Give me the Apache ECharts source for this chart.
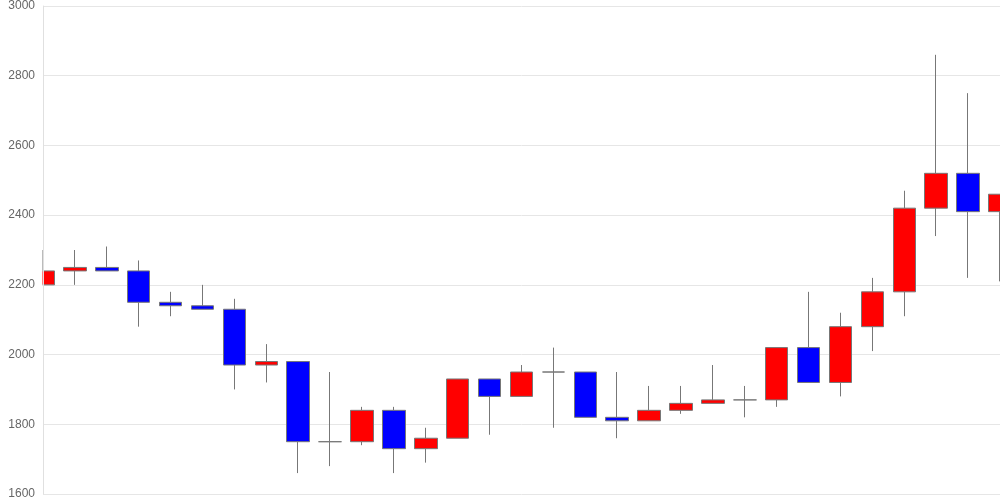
<!DOCTYPE html>
<html>
<head>
<meta charset="utf-8">
<script src="https://cdn.jsdelivr.net/npm/echarts@6/dist/echarts.min.js"></script>
<style>html,body{margin:0;padding:0;background:#fff;}#c{width:1000px;height:500px;}</style>
</head>
<body>
<div id="c"></div>
<script>
const categories = Array.from({length: 31}, (_, i) => String(i + 1));
const opens  = [2200,2240,2250,2240,2150,2140,2130,1970,1980,1750,1750,1840,1730,1760,1930,1880,1950,1950,1820,1810,1840,1860,1870,1870,2020,1920,2080,2180,2420,2520,2410];
const closes = [2240,2250,2240,2150,2140,2130,1970,1980,1750,1750,1840,1730,1760,1930,1880,1950,1950,1820,1810,1840,1860,1870,1870,2020,1920,2080,2180,2420,2520,2410,2460];
const lows   = [2200,2200,2240,2080,2110,2130,1900,1920,1660,1680,1740,1660,1690,1760,1770,1880,1790,1820,1760,1810,1830,1860,1820,1850,1920,1880,2010,2110,2340,2220,2210];
const highs  = [2300,2300,2310,2270,2180,2200,2160,2030,1980,1950,1850,1850,1790,1930,1930,1970,2020,1950,1950,1910,1910,1970,1910,2020,2180,2120,2220,2470,2860,2750,2460];
const yMin = 1600, yMax = 3000, yStep = 200;

const data = categories.map((c, i) => [opens[i], closes[i], lows[i], highs[i]]);

const chart = echarts.init(document.getElementById('c'), null, {renderer: 'canvas'});
chart.setOption({
  animation: false,
  grid: {left: 43, right: 0, top: 6, bottom: 6, containLabel: false},
  graphic: [{
    type: 'rect',
    left: 0, top: 0, z: 50,
    shape: {x: 0, y: 0, width: 42.5, height: 500},
    style: {fill: '#fff'},
    silent: true
  }],
  xAxis: {
    type: 'category',
    data: categories,
    boundaryGap: false,
    axisLine: {show: false},
    axisTick: {show: false},
    axisLabel: {show: false},
    splitLine: {show: false}
  },
  yAxis: [{
    type: 'value',
    min: yMin, max: yMax, interval: yStep,
    axisLine: {show: false},
    axisTick: {show: false},
    axisLabel: {show: false},
    splitLine: {show: true, lineStyle: {color: '#e6e6e6'}}
  }, {
    type: 'value',
    position: 'left',
    z: 100,
    min: yMin, max: yMax, interval: yStep,
    axisLine: {show: true, lineStyle: {color: '#e0e0e0'}},
    axisTick: {show: false},
    axisLabel: {color: '#666', fontSize: 12, fontFamily: 'Arial, Liberation Sans, sans-serif', margin: 8,
      formatter: v => String(v)},
    splitLine: {show: false}
  }],
  series: [{
    type: 'candlestick',
    data: data,
    barWidth: 23,
    itemStyle: {
      color: '#ff0000',
      color0: '#0000ff',
      borderColor: '#777',
      borderColor0: '#777',
      borderWidth: 1
    }
  }]
});
</script>
</body>
</html>
